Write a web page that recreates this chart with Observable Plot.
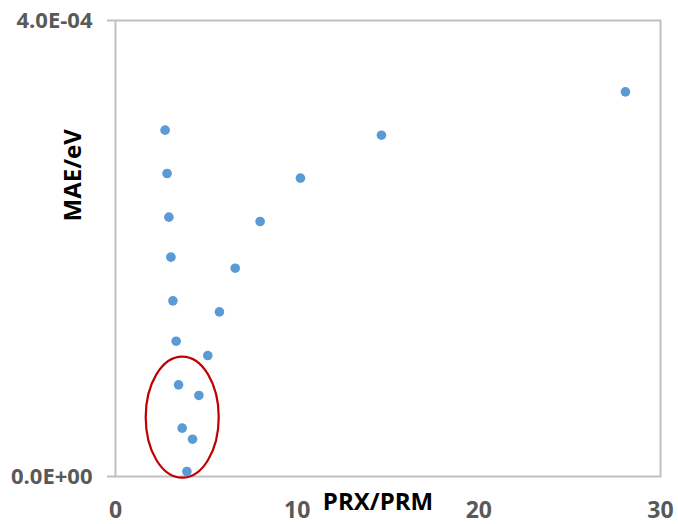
<!DOCTYPE html>
<html>
<head>
<meta charset="utf-8">
<script src="https://cdn.jsdelivr.net/npm/d3@7"></script>
<script src="https://cdn.jsdelivr.net/npm/@observablehq/plot@0.6"></script>
<style>
  html, body { margin: 0; padding: 0; background: #fff; }
  #chart svg { display: block; }
</style>
</head>
<body>
<div id="chart"></div>
<script>
// PRX/PRM ratio (x) and MAE in eV (y)
const prxPrm = [2.73, 2.84, 2.94, 3.05, 3.16, 3.34, 3.47, 3.67, 3.93, 4.24, 4.59, 5.08, 5.72, 6.59, 7.96, 10.18, 14.64, 28.07];
const maeEv  = [3.038e-4, 2.658e-4, 2.275e-4, 1.924e-4, 1.541e-4, 1.187e-4, 0.804e-4, 0.424e-4, 0.044e-4, 0.327e-4, 0.711e-4, 1.061e-4, 1.444e-4, 1.827e-4, 2.237e-4, 2.617e-4, 2.994e-4, 3.374e-4];

const xTicks = [0, 10, 20, 30];
const yTicks = [0, 4e-4];
const yTickLabels = ["0.0E+00", "4.0E-04"];
const xLabel = "PRX/PRM";
const yLabel = "MAE/eV";

// highlighted region (red ellipse) in data units
const highlightCenter = [3.70, 0.516e-4];
const highlightRadii = [2.01, 0.531e-4];

const points = prxPrm.map((x, i) => ({x, y: maeEv[i]}));

const ellipseMark = (index, scales) => {
  const cx = scales.x(highlightCenter[0]);
  const cy = scales.y(highlightCenter[1]);
  const rx = Math.abs(scales.x(highlightCenter[0] + highlightRadii[0]) - cx);
  const ry = Math.abs(scales.y(highlightCenter[1] + highlightRadii[1]) - cy);
  return d3.create("svg:ellipse")
    .attr("cx", cx).attr("cy", cy).attr("rx", rx).attr("ry", ry)
    .attr("fill", "none").attr("stroke", "#c00000").attr("stroke-width", 2.2)
    .node();
};

const chart = Plot.plot({
  width: 678,
  height: 524,
  marginLeft: 115,
  marginRight: 18,
  marginTop: 20,
  marginBottom: 48,
  style: {fontFamily: "'Open Sans', sans-serif", background: "#fff"},
  x: {domain: [0, 30], label: null},
  y: {domain: [0, 4e-4], label: null},
  marks: [
    Plot.frame({stroke: "#c0c0c0", strokeWidth: 2}),
    Plot.axisY({
      ticks: yTicks,
      tickFormat: d => yTickLabels[yTicks.indexOf(d)],
      tickSize: 8, tickPadding: 15,
      stroke: "#c0c0c0", strokeWidth: 2,
      fill: "#595959", fontSize: 22, fontWeight: "bold", label: null
    }),
    Plot.axisX({
      ticks: xTicks,
      tickSize: 0, tickPadding: 25,
      fill: "#595959", fontSize: 23, fontWeight: "bold", label: null
    }),
    ellipseMark,
    Plot.dot(points, {x: "x", y: "y", r: 4.8, fill: "#5b9bd5", stroke: "none"}),
    Plot.text([xLabel], {text: d => d, frameAnchor: "bottom", dx: -10, dy: 26,
      lineAnchor: "middle", fontSize: 24, fontWeight: "bold", fill: "#000"}),
    Plot.text([yLabel], {text: d => d, frameAnchor: "left", dx: -42, dy: -27, rotate: -90,
      lineAnchor: "middle", fontSize: 24, fontWeight: "bold", fill: "#000"})
  ]
});
document.getElementById("chart").append(chart);
</script>
</body>
</html>
